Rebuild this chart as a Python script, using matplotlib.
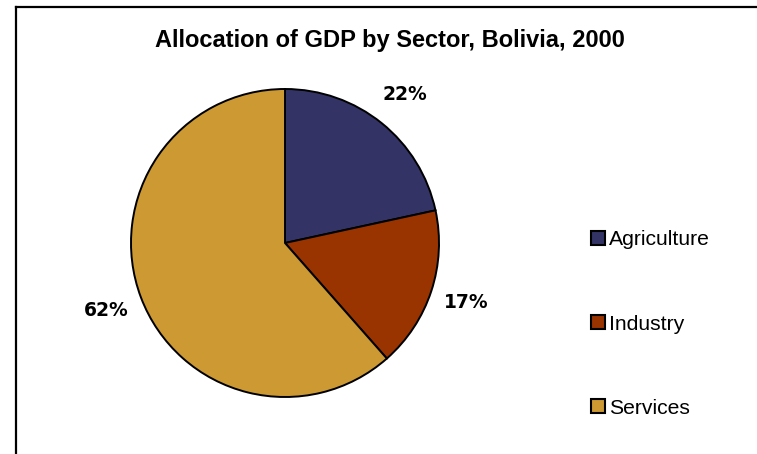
import matplotlib.pyplot as plt
from matplotlib.lines import Line2D
from matplotlib.patches import Patch

# data
sectors = ["Agriculture", "Industry", "Services"]
shares = [21.6, 16.9, 61.5]
pct_labels = ["22%", "17%", "62%"]
colors = ["#333366", "#993300", "#CC9933"]

W, H = 757, 454
fig = plt.figure(figsize=(W / 100, H / 100), dpi=100)
fig.patch.set_facecolor("white")

# chart area frame (only left and top edges are in view)
fig.add_artist(Line2D([15.5 / W, 15.5 / W], [0, 1 - 7 / H], color="black", lw=1.6))
fig.add_artist(Line2D([15.5 / W, 1], [1 - 7 / H, 1 - 7 / H], color="black", lw=1.6))

cx, cy, r = 285, 243, 154
ax = fig.add_axes([(cx - r) / W, (H - cy - r) / H, 2 * r / W, 2 * r / H])
wedges, texts = ax.pie(
    shares, colors=colors, startangle=90, counterclock=False,
    wedgeprops=dict(edgecolor="black", linewidth=1.4),
    labels=pct_labels, labeldistance=1.24,
    textprops=dict(fontsize=13.5, fontweight="bold", family="DejaVu Sans"),
)
for t in texts:
    t.set_ha("center")
    t.set_va("center")
ax.set_xlim(-1, 1)
ax.set_ylim(-1, 1)
ax.axis("off")

fig.text(390 / W, 1 - 40 / H, "Allocation of GDP by Sector, Bolivia, 2000",
         ha="center", va="center", fontsize=17, fontweight="bold",
         family="Liberation Sans")

handles = [Patch(facecolor=c, edgecolor="black", linewidth=1.5) for c in colors]
fig.legend(handles, sectors, loc="center left",
           bbox_to_anchor=(583 / W, 1 - 324 / H), frameon=False,
           prop=dict(family="Liberation Sans", size=15.2),
           handlelength=0.65, handleheight=0.65, handletextpad=0.2,
           labelspacing=3.08, borderaxespad=0)

fig.savefig("out.png", dpi=100, facecolor="white")
